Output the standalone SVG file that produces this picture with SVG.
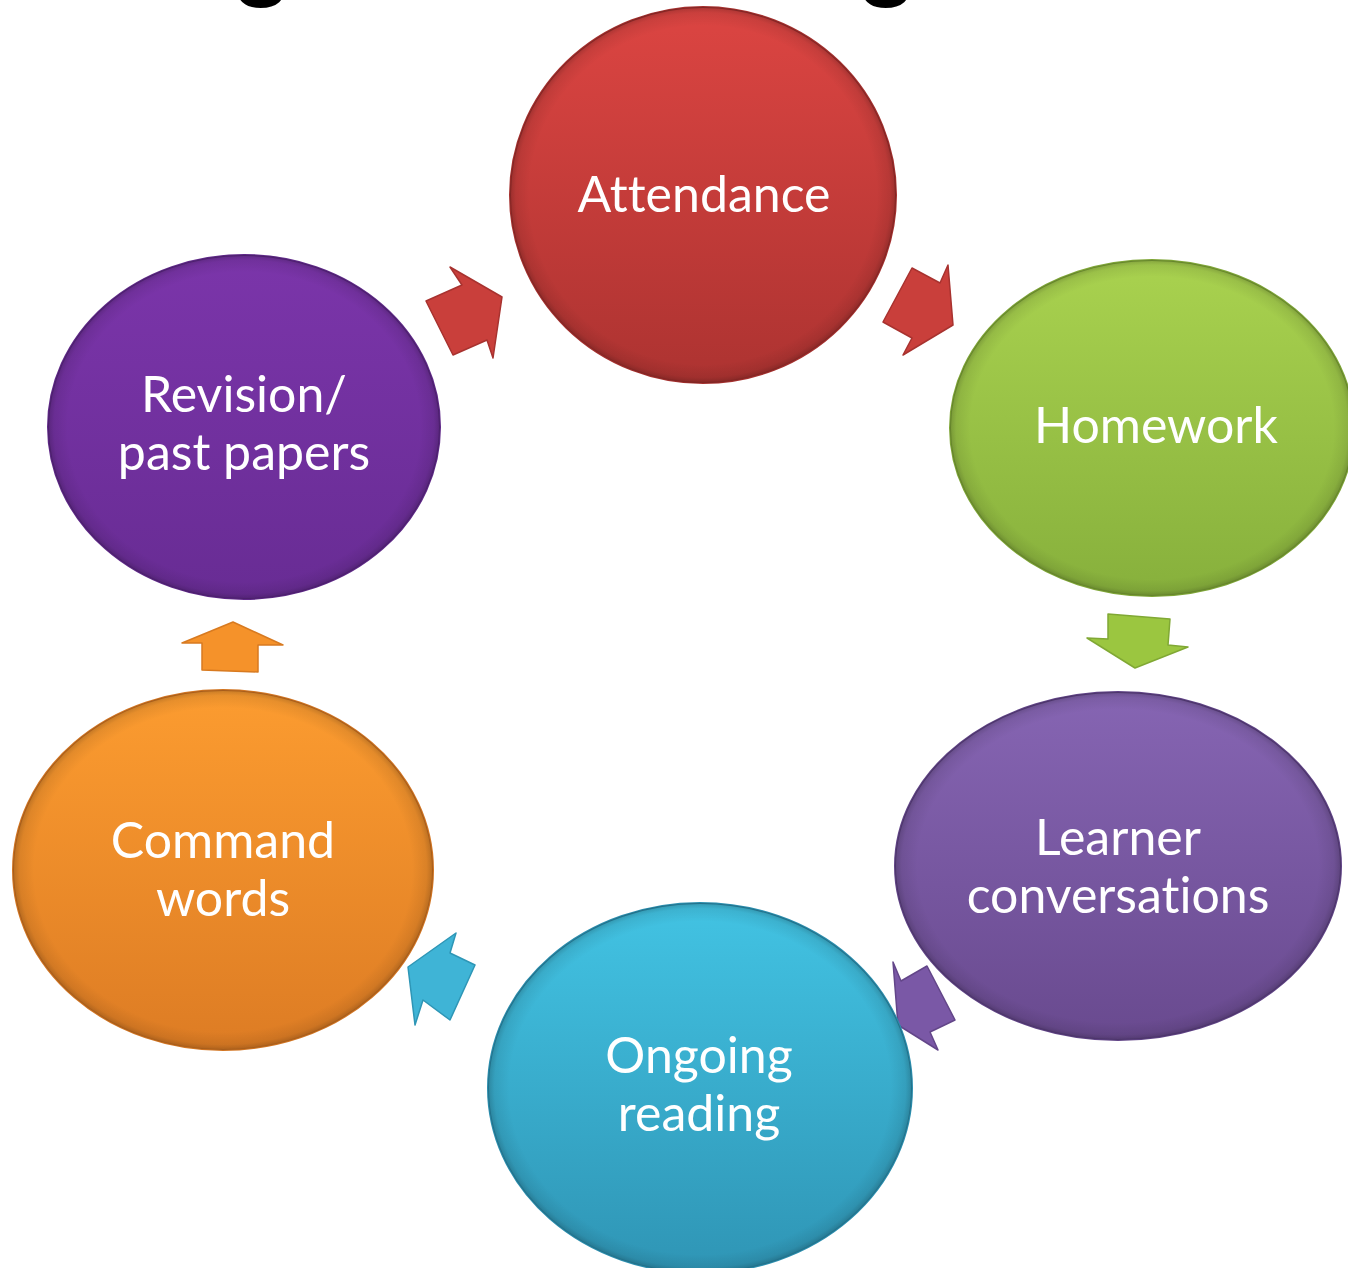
<svg xmlns="http://www.w3.org/2000/svg" width="1348" height="1268" viewBox="0 0 1348 1268">
<style>
.lbl{font-family:Lato,"Open Sans","Liberation Sans",sans-serif;font-size:50px;fill:#ffffff;text-anchor:middle;font-variant-ligatures:none;font-feature-settings:"liga" 0,"clig" 0}
.frag{font-family:"Liberation Sans",Arial,sans-serif;font-weight:bold;font-size:100px;fill:#000000;text-anchor:middle}
.edge{fill:url(#edgeShade)}
.arrow{stroke-width:1.5;stroke-linejoin:round}
</style>
<defs>
<linearGradient id="gRed" x1="0" y1="0" x2="0" y2="1"><stop offset="0" stop-color="#dc4542"/><stop offset="1" stop-color="#ad3331"/></linearGradient>
<linearGradient id="gGreen" x1="0" y1="0" x2="0" y2="1"><stop offset="0" stop-color="#a9d24f"/><stop offset="1" stop-color="#87b03c"/></linearGradient>
<linearGradient id="gLav" x1="0" y1="0" x2="0" y2="1"><stop offset="0" stop-color="#8665b3"/><stop offset="1" stop-color="#694a8f"/></linearGradient>
<linearGradient id="gCyan" x1="0" y1="0" x2="0" y2="1"><stop offset="0" stop-color="#42c3e3"/><stop offset="1" stop-color="#2f95b5"/></linearGradient>
<linearGradient id="gOrange" x1="0" y1="0" x2="0" y2="1"><stop offset="0" stop-color="#fc9c30"/><stop offset="1" stop-color="#dd7c24"/></linearGradient>
<linearGradient id="gPurple" x1="0" y1="0" x2="0" y2="1"><stop offset="0" stop-color="#7b35aa"/><stop offset="1" stop-color="#682c94"/></linearGradient>
<radialGradient id="edgeShade" cx="0.5" cy="0.5" r="0.5">
<stop offset="0.9" stop-color="#000" stop-opacity="0"/>
<stop offset="0.97" stop-color="#000" stop-opacity="0.08"/>
<stop offset="1" stop-color="#000" stop-opacity="0.22"/>
</radialGradient>
</defs>

<text class="frag" x="262" y="-13">g</text>
<text class="frag" x="887" y="-13">g</text>

<g id="connectors">
<polygon id="a1" class="arrow" fill="#c93f3b" stroke="#a8322f" points="450,267 462,285 426,301 453,355 487,340 493,358 502,297"/>
<polygon id="a2" class="arrow" fill="#c93f3b" stroke="#a8322f" points="948,265 940,283 912,268 883,322 912,338 903,355 953,325"/>
<polygon id="a3" class="arrow" fill="#9bc640" stroke="#80a834" points="1108,614 1170,619 1168,645 1188,647 1135,668 1087,638 1108,639"/>
<polygon id="a4" class="arrow" fill="#7a58a6" stroke="#634689" points="893,962 901,981 927,966 955,1020 930,1032 938,1050 898,1025"/>
<polygon id="a5" class="arrow" fill="#3fb4d6" stroke="#2e96b6" points="456,933 450,953 475,965 450,1020 423,1000 415,1025 408,967"/>
<polygon id="a6" class="arrow" fill="#f5922a" stroke="#d87a20" points="233,622 283,645 258,645 258,672 202,670 202,643 182,643"/>
</g>

<g id="n-attendance">
<ellipse cx="703" cy="195" rx="193" ry="188" fill="url(#gRed)" stroke="#a5302e" stroke-width="2"/>
<ellipse class="edge" cx="703" cy="195" rx="193" ry="188"/>
<text class="lbl" x="704" y="212">Attendance</text>
</g>

<g id="n-homework">
<ellipse cx="1152" cy="428" rx="202" ry="168" fill="url(#gGreen)" stroke="#7fa637" stroke-width="2"/>
<ellipse class="edge" cx="1152" cy="428" rx="202" ry="168"/>
<text class="lbl" x="1156" y="443">Homework</text>
</g>

<g id="n-learner">
<ellipse cx="1118" cy="866" rx="223" ry="174" fill="url(#gLav)" stroke="#604386" stroke-width="2"/>
<ellipse class="edge" cx="1118" cy="866" rx="223" ry="174"/>
<text class="lbl" x="1118" y="855">Learner</text>
<text class="lbl" x="1118" y="913">conversations</text>
</g>

<g id="n-ongoing">
<ellipse cx="700" cy="1088" rx="212" ry="185" fill="url(#gCyan)" stroke="#2b8eae" stroke-width="2"/>
<ellipse class="edge" cx="700" cy="1088" rx="212" ry="185"/>
<text class="lbl" x="699" y="1073">Ongoing</text>
<text class="lbl" x="699" y="1131">reading</text>
</g>

<g id="n-command">
<ellipse cx="223" cy="870" rx="210" ry="180" fill="url(#gOrange)" stroke="#d27522" stroke-width="2"/>
<ellipse class="edge" cx="223" cy="870" rx="210" ry="180"/>
<text class="lbl" x="223" y="858">Command</text>
<text class="lbl" x="223" y="916">words</text>
</g>

<g id="n-revision">
<ellipse cx="244" cy="427" rx="196" ry="172" fill="url(#gPurple)" stroke="#5f2888" stroke-width="2"/>
<ellipse class="edge" cx="244" cy="427" rx="196" ry="172"/>
<text class="lbl" x="244" y="412">Revision/</text>
<text class="lbl" x="244" y="470">past papers</text>
</g>
</svg>
